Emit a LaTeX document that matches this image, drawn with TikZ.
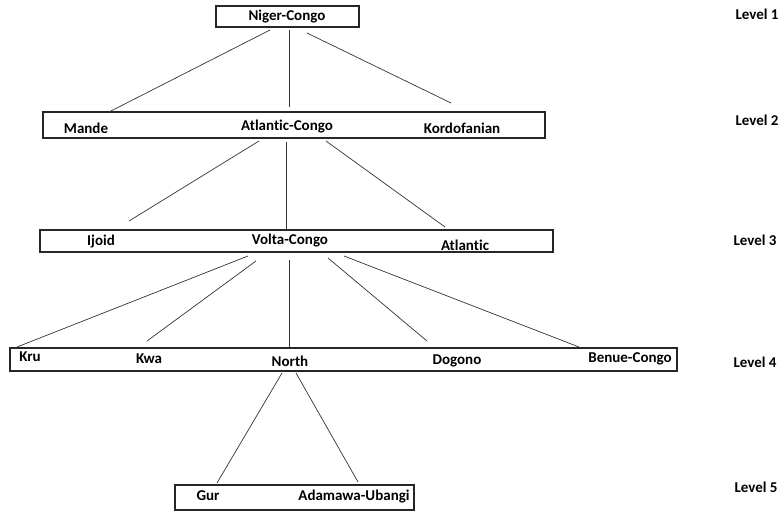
\documentclass[tikz,border=0pt]{standalone}
\usepackage{fontspec}
\setmainfont{Carlito}[Ligatures=CommonOff]
\begin{document}
\begin{tikzpicture}[x=1pt,y=-1pt,
  levelbox/.style={draw=black!85,line width=1.1pt},
  lbl/.style={font=\fontsize{15}{17}\selectfont\bfseries,text=black,inner sep=0pt,anchor=center},
  edge/.style={draw=black!80,line width=0.7pt}]
\useasboundingbox (0,0) rectangle (780,514);
% boxes
\draw[levelbox] (216,6) rectangle (359,27);
\draw[levelbox] (43,112) rectangle (545,138);
\draw[levelbox] (40,230) rectangle (553,252);
\draw[levelbox] (10,348) rectangle (677,371);
\draw[levelbox] (175,485) rectangle (414,510);
% labels
\node[lbl] (nc) at (287,17) {Niger-Congo};
\node[lbl] (mande) at (86,128) {Mande};
\node[lbl] (ac) at (287,127) {Atlantic-Congo};
\node[lbl] (kord) at (462,128) {Kordofanian};
\node[lbl] (ijoid) at (101,242) {Ijoid};
\node[lbl] (vc) at (290,241) {Volta-Congo};
\node[lbl] (atl) at (465,245) {Atlantic};
\node[lbl] (kru) at (30,357) {Kru};
\node[lbl] (kwa) at (149,359) {Kwa};
\node[lbl] (north) at (290,361) {North};
\node[lbl] (dog) at (457,361) {Dogono};
\node[lbl] (bc) at (630,359) {Benue-Congo};
\node[lbl] (gur) at (208,496) {Gur};
\node[lbl] (au) at (354,497) {Adamawa-Ubangi};
\node[lbl] (l1) at (757,14) {Level 1};
\node[lbl] (l2) at (757,120) {Level 2};
\node[lbl] (l3) at (755,240) {Level 3};
\node[lbl] (l4) at (755,362) {Level 4};
\node[lbl] (l5) at (756,487) {Level 5};
% connector end points
\coordinate (a1) at (270,30); \coordinate (b1) at (109,112);
\coordinate (a2) at (289,30); \coordinate (b2) at (289,107);
\coordinate (a3) at (307,33); \coordinate (b3) at (451,103);
\coordinate (c1) at (259,141); \coordinate (d1) at (129,221);
\coordinate (c2) at (286,142); \coordinate (d2) at (286,229);
\coordinate (c3) at (326,141); \coordinate (d3) at (445,227);
\coordinate (e1) at (248,256); \coordinate (f1) at (17,347);
\coordinate (e2) at (256,261); \coordinate (f2) at (147,341);
\coordinate (e3) at (289,260); \coordinate (f3) at (289,347);
\coordinate (e4) at (328,258); \coordinate (f4) at (427,341);
\coordinate (e5) at (344,256); \coordinate (f5) at (579,347);
\coordinate (g1) at (282,373); \coordinate (h1) at (217,483);
\coordinate (g2) at (296,373); \coordinate (h2) at (358,482);
\draw[edge] (a1) -- (b1); \draw[edge] (a2) -- (b2); \draw[edge] (a3) -- (b3);
\draw[edge] (c1) -- (d1); \draw[edge] (c2) -- (d2); \draw[edge] (c3) -- (d3);
\draw[edge] (e1) -- (f1); \draw[edge] (e2) -- (f2); \draw[edge] (e3) -- (f3);
\draw[edge] (e4) -- (f4); \draw[edge] (e5) -- (f5);
\draw[edge] (g1) -- (h1); \draw[edge] (g2) -- (h2);
\end{tikzpicture}
\end{document}
